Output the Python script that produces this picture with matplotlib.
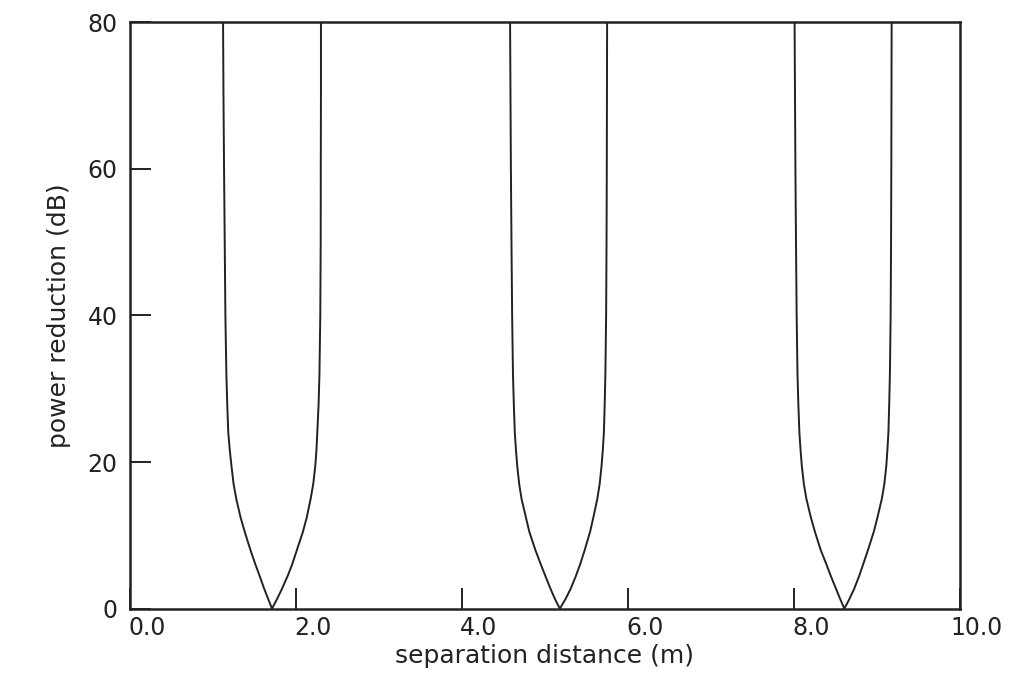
import matplotlib
matplotlib.use("Agg")
import matplotlib.pyplot as plt
import matplotlib.transforms as mtransforms
import numpy as np

# power reduction levels (dB) read along each notch, top to bottom
db_levels = [80, 70, 60, 50, 40, 32, 28, 24, 21.5, 19.5, 17, 15, 12.5,
             10.5, 8, 6, 4.5, 2.7, 1.3, 0]

# separation distance (m) of each notch minimum
notch_min = [1.71, 5.18, 8.61]

# half-widths (m) of the left / right branch at those levels
notch1_left = [0.59, 0.585, 0.578, 0.570, 0.562, 0.550, 0.540, 0.527, 0.508,
               0.489, 0.463, 0.431, 0.38, 0.329, 0.26, 0.199, 0.15, 0.094,
               0.045, 0]
notch1_right = [0.59, 0.59, 0.588, 0.587, 0.582, 0.572, 0.562, 0.546, 0.535,
                0.522, 0.497, 0.466, 0.42, 0.373, 0.30, 0.242, 0.19, 0.12,
                0.06, 0]
notch2_left = [0.60, 0.595, 0.59, 0.583, 0.575, 0.565, 0.555, 0.543, 0.528,
               0.514, 0.49, 0.462, 0.41, 0.368, 0.295, 0.228, 0.176, 0.112,
               0.058, 0]
notch2_right = [0.57, 0.568, 0.566, 0.563, 0.558, 0.549, 0.541, 0.531, 0.517,
                0.503, 0.48, 0.452, 0.405, 0.365, 0.30, 0.243, 0.195, 0.13,
                0.068, 0]
notch3_left = [0.60, 0.595, 0.59, 0.583, 0.575, 0.565, 0.555, 0.542, 0.527,
               0.513, 0.488, 0.458, 0.405, 0.355, 0.285, 0.215, 0.165, 0.10,
               0.05, 0]
notch3_right = [0.57, 0.568, 0.566, 0.563, 0.558, 0.549, 0.541, 0.531, 0.518,
                0.506, 0.482, 0.452, 0.40, 0.355, 0.285, 0.225, 0.18, 0.118,
                0.06, 0]

x_ticks = [0, 2, 4, 6, 8, 10]
x_ticklabels = ["0.0", "2.0", "4.0", "6.0", "8.0", "10.0"]
y_ticks = [0, 20, 40, 60, 80]

ink = '#222222'
fnt = 'DejaVu Sans'

fig = plt.figure(figsize=(10.33, 6.98), dpi=100)
ax = fig.add_axes([0.126, 0.128, 0.803, 0.84])

branches = [(notch1_left, notch1_right),
            (notch2_left, notch2_right),
            (notch3_left, notch3_right)]
for x0, (left, right) in zip(notch_min, branches):
    xl = x0 - np.array(left)
    xr = x0 + np.array(right)
    xs = np.concatenate([xl, xr[::-1]])
    ys = np.concatenate([db_levels, db_levels[::-1]])
    ax.plot(xs, ys, color=ink, lw=1.4)

ax.set_xlim(0, 10)
ax.set_ylim(0, 80)

ax.set_xticks(x_ticks)
ax.set_xticklabels(x_ticklabels, fontfamily=fnt, fontsize=17, color=ink)
ax.set_yticks(y_ticks)
ax.set_yticklabels([str(v) for v in y_ticks], fontfamily=fnt, fontsize=17,
                   color=ink)
ax.tick_params(axis='x', direction='in', length=15, width=1.4,
               colors=ink, pad=5)
ax.tick_params(axis='y', direction='in', length=15, width=1.4,
               colors=ink, pad=9)
ax.tick_params(top=False, right=False)

# x tick labels sit a little right of their ticks in the original
shift = mtransforms.ScaledTranslation(0.17, 0, fig.dpi_scale_trans)
for lab in ax.get_xticklabels():
    lab.set_transform(lab.get_transform() + shift)

for sp in ax.spines.values():
    sp.set_linewidth(1.8)
    sp.set_color(ink)

ax.set_xlabel("separation distance (m)", fontfamily=fnt, fontsize=18,
              color=ink, labelpad=3)
ax.set_ylabel("power reduction (dB)", fontfamily=fnt, fontsize=18,
              color=ink, labelpad=12)

fig.savefig("out.png", dpi=100)
